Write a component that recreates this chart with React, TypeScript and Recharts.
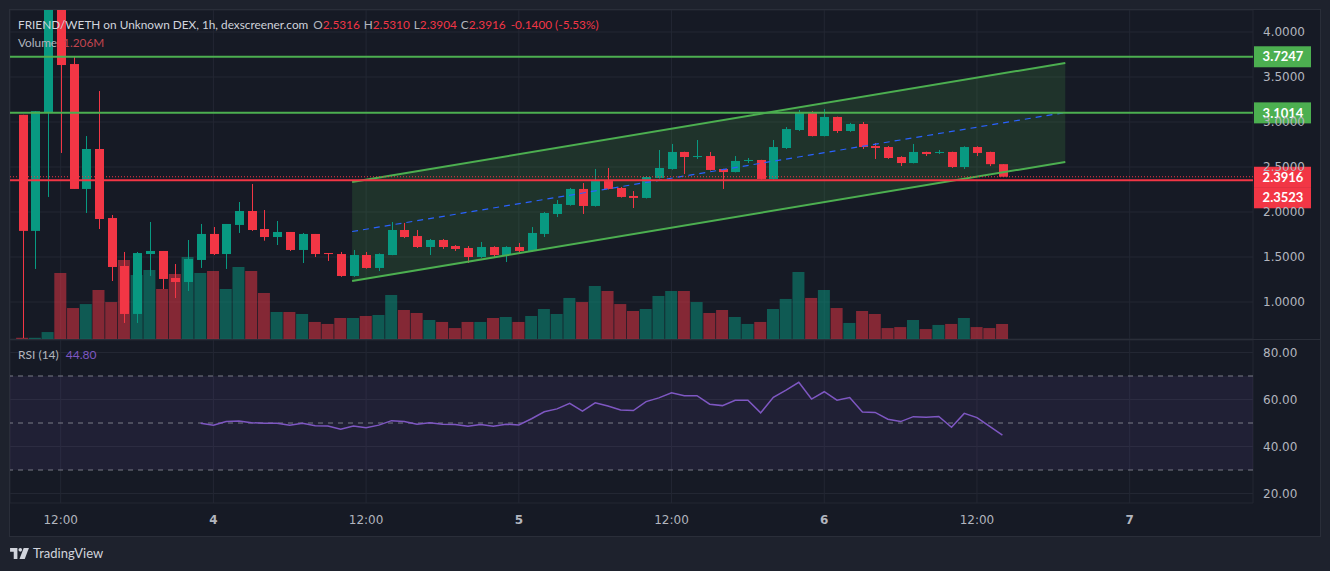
import React from 'react';
import {
  ComposedChart,
  Bar,
  Line,
  Area,
  Cell,
  XAxis,
  YAxis,
  CartesianGrid,
  ReferenceLine,
  ReferenceArea,
} from 'recharts';

// hourly candles, hour 0 = 12:00 on the 3rd
const firstHour = -3;

const opens = [
  3.08, 1.79, 3.11, 4.45, 3.644, 2.256, 2.7, 1.933, 1.4, 0.867,
  1.533, 1.567, 1.267, 1.222, 1.467, 1.756, 1.533, 1.856, 2.011, 1.811,
  1.722, 1.778, 1.578, 1.756, 1.544, 1.533, 1.289, 1.522, 1.378, 1.522,
  1.8, 1.733, 1.611, 1.689, 1.622, 1.6, 1.5, 1.611, 1.522, 1.611,
  1.567, 1.756, 1.978, 2.078, 2.256, 2.067, 2.344, 2.267, 2.178, 2.156,
  2.378, 2.478, 2.667, 2.611, 2.622, 2.478, 2.444, 2.567, 2.578, 2.367,
  2.711, 2.911, 3.111, 2.844, 3.056, 2.9, 2.978, 2.733, 2.722, 2.611,
  2.544, 2.667, 2.656, 2.667, 2.5, 2.722, 2.667, 2.5316,
];
const highs = [
  3.08, 3.12, 4.5, 4.5, 3.733, 2.844, 3.344, 1.967, 1.556, 1.556,
  1.889, 1.567, 1.422, 1.689, 1.867, 1.833, 1.867, 2.111, 2.311, 2.022,
  1.9, 1.778, 1.767, 1.756, 1.544, 1.556, 1.578, 1.556, 1.54, 1.889,
  1.878, 1.8, 1.7, 1.7, 1.633, 1.622, 1.667, 1.62, 1.62, 1.656,
  1.833, 2.0, 2.133, 2.267, 2.322, 2.478, 2.489, 2.278, 2.233, 2.4,
  2.689, 2.756, 2.67, 2.8, 2.667, 2.48, 2.622, 2.6, 2.58, 2.8,
  2.944, 3.133, 3.12, 3.144, 3.06, 2.99, 3.0, 2.767, 2.733, 2.62,
  2.756, 2.67, 2.689, 2.67, 2.73, 2.73, 2.67, 2.531,
];
const lows = [
  0.6, 1.367, 2.167, 2.656, 2.256, 1.989, 1.811, 1.233, 0.767, 0.767,
  1.289, 1.144, 1.044, 1.122, 1.378, 1.522, 1.367, 1.767, 1.79, 1.681,
  1.633, 1.567, 1.433, 1.5, 1.456, 1.28, 1.28, 1.37, 1.344, 1.52,
  1.71, 1.6, 1.522, 1.59, 1.567, 1.433, 1.49, 1.5, 1.444, 1.544,
  1.56, 1.722, 1.944, 2.07, 1.978, 2.06, 2.25, 2.16, 2.044, 2.15,
  2.37, 2.47, 2.422, 2.589, 2.46, 2.256, 2.44, 2.544, 2.36, 2.36,
  2.7, 2.9, 2.84, 2.84, 2.878, 2.89, 2.7, 2.589, 2.59, 2.511,
  2.54, 2.622, 2.644, 2.49, 2.478, 2.622, 2.51, 2.3904,
];
const closes = [
  1.79, 3.12, 4.45, 3.633, 2.256, 2.7, 1.922, 1.389, 0.867, 1.544,
  1.567, 1.256, 1.222, 1.478, 1.756, 1.533, 1.867, 2.011, 1.8, 1.722,
  1.778, 1.578, 1.756, 1.533, 1.533, 1.289, 1.522, 1.378, 1.533, 1.8,
  1.722, 1.611, 1.689, 1.611, 1.589, 1.5, 1.611, 1.522, 1.611, 1.567,
  1.767, 1.989, 2.089, 2.256, 2.067, 2.344, 2.256, 2.167, 2.156, 2.389,
  2.489, 2.667, 2.611, 2.622, 2.467, 2.444, 2.567, 2.578, 2.367, 2.722,
  2.922, 3.111, 2.844, 3.056, 2.9, 2.978, 2.722, 2.711, 2.6, 2.544,
  2.667, 2.644, 2.667, 2.5, 2.722, 2.656, 2.5316, 2.3916,
];
// volume in millions
const volumes = [
  0.1, 0.1, 0.56, 5.31, 2.49, 2.81, 3.94, 2.97, 6.35, 5.15,
  5.55, 4.02, 5.23, 6.59, 5.31, 5.47, 4.02, 5.79, 5.47, 3.7,
  2.17, 2.17, 2.01, 1.37, 1.21, 1.69, 1.69, 1.85, 1.93, 3.54,
  2.33, 2.09, 1.53, 1.37, 0.88, 1.37, 1.37, 1.69, 1.77, 1.37,
  1.85, 2.41, 2.01, 3.3, 2.97, 4.26, 3.86, 2.81, 2.25, 2.41,
  3.46, 3.86, 3.86, 2.97, 2.09, 2.33, 1.77, 1.21, 1.37, 2.41,
  3.22, 5.39, 3.3, 3.94, 2.49, 1.29, 2.25, 2.01, 0.88, 0.96,
  1.53, 0.8, 1.13, 1.21, 1.69, 0.96, 0.88, 1.206,
];
// RSI(14), first 14 candles have no value
const rsiValues: (number | null)[] = [
  null, null, null, null, null, null, null, null, null, null, null, null, null, null,
  49.9, 49.1, 50.6, 50.9, 50.1, 49.9, 49.9, 49.1, 49.9, 48.8,
  48.7, 47.4, 48.7, 48.0, 49.1, 51.0, 50.6, 49.5, 50.1, 49.5,
  49.4, 48.6, 49.4, 48.6, 49.5, 49.2, 51.8, 54.8, 56.0, 58.4,
  55.1, 58.6, 57.2, 55.5, 55.3, 59.1, 60.7, 62.9, 61.6, 61.6,
  58.0, 57.4, 59.7, 59.7, 54.3, 60.9, 64.0, 67.3, 60.2, 63.3,
  59.7, 60.8, 54.7, 54.5, 51.6, 50.6, 52.7, 52.5, 52.8, 48.2,
  54.1, 52.3, 48.6, 44.8,
];

// parallel channel drawn between two anchor times
const channelTimes = [22.9, 78.94];
const channelUpper = [2.333, 3.656];
const channelLower = [1.233, 2.556];
const channelMid = [1.783, 3.106];

const resistanceLevels = [3.7247, 3.1014];
const supportLevel = 2.3523;
const lastPrice = 2.3916;

const timeTicks = [0, 12, 24, 36, 48, 60, 72, 84];
const timeTickLabels = ['12:00', '4', '12:00', '5', '12:00', '6', '12:00', '7'];
const priceTicks = [1, 1.5, 2, 2.5, 3, 3.5, 4];
const rsiTicks = [20, 40, 60, 80];

const BG = '#1e222d';
const PANE = '#161a25';
const GRID = '#232733';
const TEXT = '#b2b5be';
const UP = '#089981';
const DOWN = '#f23645';
const LEVEL = '#4caf50';
const RSI_COLOR = '#7e57c2';
const AXIS_FONT = 'DejaVu Sans';
const LABEL_FONT = 'Lato';

const timeDomain: [number, number] = [-3.982, 93.69];
const priceDomain: [number, number] = [0.5889, 4.2444];
const volumeDomain: [number, number] = [0, 26.45];
const rsiDomain: [number, number] = [15.96, 85.32];

const candles = opens.map((open, i) => ({
  t: firstHour + i,
  open,
  high: highs[i],
  low: lows[i],
  close: closes[i],
  volume: volumes[i],
  rsi: rsiValues[i],
}));

const channel = channelTimes.map((t, i) => ({
  t,
  upper: channelUpper[i],
  lower: channelLower[i],
  mid: channelMid[i],
}));

const Candle = (props: any) => {
  const { x, width, payload } = props;
  let { y, height } = props;
  if (height < 0) {
    y += height;
    height = -height;
  }
  const { open, high, low, close } = payload;
  const top = Math.max(high, open, close);
  const bottom = Math.min(low, open, close);
  const span = top - bottom || 1;
  const py = (v: number) => y + ((top - v) / span) * height;
  const color = close >= open ? UP : DOWN;
  const bodyTop = py(Math.max(open, close));
  const bodyBottom = py(Math.min(open, close));
  const cx = Math.round(x + width / 2) + 0.5;
  return (
    <g>
      <line x1={cx} x2={cx} y1={y} y2={y + height} stroke={color} strokeWidth={1} />
      <rect
        x={cx - width / 2}
        y={bodyTop}
        width={width}
        height={Math.max(1, bodyBottom - bodyTop)}
        fill={color}
      />
    </g>
  );
};

const priceBadge = (value: number, color: string, dy = 0) => (props: any) => {
  const vb = props.viewBox || {};
  const x = vb.x + vb.width + 1;
  const y = vb.y + dy;
  return (
    <g>
      <rect x={x} y={y - 10.5} width={57} height={21} fill={color} />
      <text
        x={x + 29}
        y={y}
        dy="0.36em"
        textAnchor="middle"
        fill="#ffffff"
        fontSize={13}
        fontWeight={700}
        fontFamily={LABEL_FONT}
      >
        {value.toFixed(4)}
      </text>
    </g>
  );
};

const TimeTick = (props: any) => {
  const { x, y, payload } = props;
  const idx = timeTicks.indexOf(payload.value);
  const label = timeTickLabels[idx] ?? '';
  const isDay = label !== '12:00';
  return (
    <text
      x={x}
      y={y + 17}
      dy="0.36em"
      textAnchor="middle"
      fill={TEXT}
      fontSize={12}
      fontWeight={isDay ? 700 : 400}
      fontFamily={AXIS_FONT}
    >
      {label}
    </text>
  );
};

const TvLogo = () => (
  <svg width={19} height={11} viewBox="0 0 36 21">
    <path d="M0 0h14v21H7V7H0z" fill="#d1d4dc" />
    <circle cx={19.5} cy={3.5} r={3.5} fill="#d1d4dc" />
    <path d="M26 0h10l-8 21H18z" fill="#d1d4dc" />
  </svg>
);

const axisTick = { fill: TEXT, fontSize: 12, fontFamily: AXIS_FONT };

export default function App() {
  return (
    <div
      style={{
        position: 'fixed',
        left: 0,
        top: 0,
        width: 1330,
        height: 571,
        background: BG,
        overflow: 'hidden',
      }}
    >
      <div
        style={{
          position: 'absolute',
          left: 9,
          top: 9,
          width: 1312,
          height: 528,
          boxSizing: 'border-box',
          border: '1px solid #2a2e39',
          background: PANE,
        }}
      />

      {/* price pane with volume */}
      <div style={{ position: 'absolute', left: 10, top: 10 }}>
        <ComposedChart
          width={1310}
          height={329}
          data={candles}
          margin={{ top: 0, right: 0, bottom: 0, left: 0 }}
        >
          <CartesianGrid stroke={GRID} xAxisId="t" yAxisId="price" />
          <XAxis
            xAxisId="t"
            dataKey="t"
            type="number"
            domain={timeDomain}
            ticks={timeTicks}
            allowDataOverflow
            hide
          />
          <XAxis
            xAxisId="tv"
            dataKey="t"
            type="number"
            domain={timeDomain}
            allowDataOverflow
            hide
          />
          <XAxis
            xAxisId="tc"
            dataKey="t"
            type="number"
            domain={timeDomain}
            allowDataOverflow
            hide
          />
          <YAxis
            yAxisId="price"
            orientation="right"
            width={67}
            domain={priceDomain}
            ticks={priceTicks}
            allowDataOverflow
            axisLine={false}
            tickLine={false}
            tickSize={0}
            tickMargin={10}
            tick={axisTick}
            tickFormatter={(v: number) => v.toFixed(4)}
          />
          <YAxis yAxisId="vol" domain={volumeDomain} allowDataOverflow hide />

          <Bar
            xAxisId="tv"
            yAxisId="vol"
            dataKey="volume"
            barSize={12}
            isAnimationActive={false}
          >
            {candles.map((c, i) => (
              <Cell
                key={i}
                fill={c.close >= c.open ? 'rgba(8,153,129,0.5)' : 'rgba(242,54,69,0.5)'}
              />
            ))}
          </Bar>

          <Area
            xAxisId="tc"
            yAxisId="price"
            data={channel}
            dataKey={(d: any) => [d.lower, d.upper]}
            type="linear"
            stroke="none"
            fill={LEVEL}
            fillOpacity={0.17}
            isAnimationActive={false}
          />

          <Bar
            xAxisId="t"
            yAxisId="price"
            dataKey={(d: any) => [
              Math.min(d.low, d.open, d.close),
              Math.max(d.high, d.open, d.close),
            ]}
            barSize={9}
            shape={Candle}
            isAnimationActive={false}
          />

          <Line
            xAxisId="tc"
            yAxisId="price"
            data={channel}
            dataKey="upper"
            type="linear"
            stroke={LEVEL}
            strokeWidth={2}
            dot={false}
            isAnimationActive={false}
          />
          <Line
            xAxisId="tc"
            yAxisId="price"
            data={channel}
            dataKey="lower"
            type="linear"
            stroke={LEVEL}
            strokeWidth={2}
            dot={false}
            isAnimationActive={false}
          />
          <Line
            xAxisId="tc"
            yAxisId="price"
            data={channel}
            dataKey="mid"
            type="linear"
            stroke="#2962ff"
            strokeWidth={1.2}
            strokeDasharray="6 5"
            dot={false}
            isAnimationActive={false}
          />

          {resistanceLevels.map((lvl) => (
            <ReferenceLine
              key={lvl}
              xAxisId="t"
              yAxisId="price"
              y={lvl}
              stroke={LEVEL}
              strokeWidth={2}
              label={priceBadge(lvl, LEVEL)}
            />
          ))}
          <ReferenceLine
            xAxisId="t"
            yAxisId="price"
            y={lastPrice}
            stroke={DOWN}
            strokeWidth={1}
            strokeDasharray="1 2"
            label={priceBadge(lastPrice, DOWN, 0.5)}
          />
          <ReferenceLine
            xAxisId="t"
            yAxisId="price"
            y={supportLevel}
            stroke={DOWN}
            strokeWidth={2}
            label={priceBadge(supportLevel, DOWN, 17.5)}
          />
        </ComposedChart>
      </div>

      <div
        style={{
          position: 'absolute',
          left: 10,
          top: 339,
          width: 1310,
          height: 1,
          background: '#2a2e39',
        }}
      />

      {/* RSI pane with time axis */}
      <div style={{ position: 'absolute', left: 10, top: 340 }}>
        <ComposedChart
          width={1310}
          height={196}
          data={candles}
          margin={{ top: 0, right: 0, bottom: 0, left: 0 }}
        >
          <CartesianGrid stroke={GRID} />
          <XAxis
            dataKey="t"
            type="number"
            domain={timeDomain}
            ticks={timeTicks}
            allowDataOverflow
            height={33}
            axisLine={false}
            tickLine={false}
            tickSize={0}
            tickMargin={0}
            tick={<TimeTick />}
          />
          <YAxis
            orientation="right"
            width={67}
            domain={rsiDomain}
            ticks={rsiTicks}
            allowDataOverflow
            axisLine={false}
            tickLine={false}
            tickSize={0}
            tickMargin={10}
            tick={axisTick}
            tickFormatter={(v: number) => v.toFixed(2)}
          />
          <ReferenceArea y1={30} y2={70} fill={RSI_COLOR} fillOpacity={0.1} stroke="none" />
          {[70, 50, 30].map((v) => (
            <ReferenceLine key={v} y={v} stroke="#787b86" strokeDasharray="5 5" />
          ))}
          <Line
            dataKey="rsi"
            type="linear"
            stroke={RSI_COLOR}
            strokeWidth={1.5}
            dot={false}
            isAnimationActive={false}
          />
        </ComposedChart>
      </div>

      {/* legends */}
      <div
        style={{
          position: 'absolute',
          left: 18,
          top: 16,
          fontFamily: LABEL_FONT,
          fontSize: 11.8,
          lineHeight: '17px',
          color: TEXT,
          whiteSpace: 'nowrap',
        }}
      >
        <div>
          <span style={{ color: '#d1d4dc' }}>FRIEND/WETH on Unknown DEX, 1h, dexscreener.com</span>
          <span style={{ marginLeft: 5 }}>O</span>
          <span style={{ color: DOWN }}>2.5316</span>
          <span style={{ marginLeft: 4 }}>H</span>
          <span style={{ color: DOWN }}>2.5310</span>
          <span style={{ marginLeft: 4 }}>L</span>
          <span style={{ color: DOWN }}>2.3904</span>
          <span style={{ marginLeft: 4 }}>C</span>
          <span style={{ color: DOWN }}>2.3916</span>
          <span style={{ marginLeft: 5, color: DOWN }}>-0.1400 (-5.53%)</span>
        </div>
        <div style={{ marginTop: 1 }}>
          <span>Volume</span>
          <span style={{ marginLeft: 6, color: '#c2454f' }}>1.206M</span>
        </div>
      </div>

      <div
        style={{
          position: 'absolute',
          left: 18,
          top: 346,
          fontFamily: LABEL_FONT,
          fontSize: 12,
          lineHeight: '17px',
          color: TEXT,
          whiteSpace: 'nowrap',
        }}
      >
        <span>RSI (14)</span>
        <span style={{ marginLeft: 7, color: RSI_COLOR }}>44.80</span>
      </div>

      <div
        style={{
          position: 'absolute',
          left: 10,
          top: 545,
          display: 'flex',
          alignItems: 'center',
          gap: 4,
          fontFamily: LABEL_FONT,
          fontSize: 13,
          color: '#d1d4dc',
        }}
      >
        <TvLogo />
        <span>TradingView</span>
      </div>
    </div>
  );
}
